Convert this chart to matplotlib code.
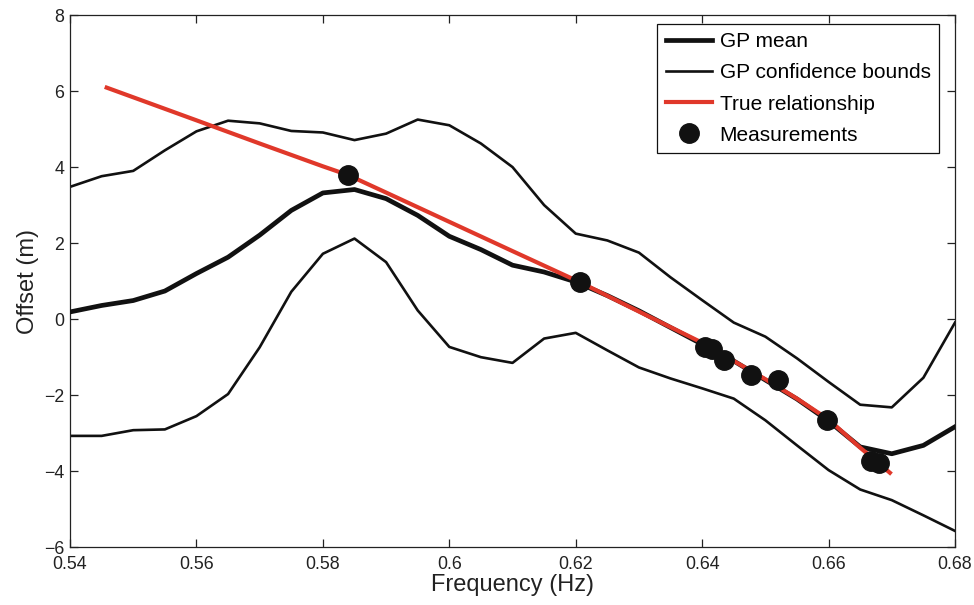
import matplotlib
matplotlib.use("Agg")
import matplotlib.pyplot as plt

# frequency grid of the GP curves (Hz)
freq = [0.540, 0.545, 0.550, 0.555, 0.560, 0.565, 0.570, 0.575, 0.580, 0.585,
        0.590, 0.595, 0.600, 0.605, 0.610, 0.615, 0.620, 0.625, 0.630, 0.635,
        0.640, 0.645, 0.650, 0.655, 0.660, 0.665, 0.670, 0.675, 0.680]

gp_mean = [0.19, 0.36, 0.49, 0.74, 1.20, 1.63, 2.21, 2.86, 3.32, 3.41,
           3.17, 2.73, 2.18, 1.83, 1.42, 1.24, 0.98, 0.62, 0.22, -0.22,
           -0.66, -1.10, -1.60, -2.10, -2.68, -3.36, -3.54, -3.32, -2.83]

gp_upper = [3.48, 3.76, 3.90, 4.44, 4.94, 5.22, 5.15, 4.95, 4.91, 4.71,
            4.88, 5.25, 5.10, 4.62, 4.00, 3.00, 2.25, 2.07, 1.75, 1.10,
            0.50, -0.09, -0.46, -1.03, -1.65, -2.25, -2.32, -1.54, -0.09]

gp_lower = [-3.07, -3.07, -2.92, -2.90, -2.55, -1.97, -0.74, 0.72, 1.72, 2.12,
            1.50, 0.23, -0.73, -1.00, -1.15, -0.51, -0.36, -0.82, -1.27, -1.56,
            -1.82, -2.09, -2.66, -3.32, -3.97, -4.48, -4.76, -5.16, -5.57]

# true relationship
true_freq = [0.5458, 0.560, 0.570, 0.580, 0.584, 0.590, 0.600, 0.610, 0.6207,
             0.630, 0.640, 0.650, 0.655, 0.660, 0.665, 0.6697]
true_offset = [6.09, 5.23, 4.62, 4.02, 3.79, 3.33, 2.56, 1.79, 0.97,
               0.20, -0.62, -1.58, -2.09, -2.64, -3.38, -4.04]

# measurements
meas_freq = [0.5840, 0.6207, 0.6405, 0.6415, 0.6434, 0.6478, 0.6520, 0.6598, 0.6667, 0.6679]
meas_offset = [3.79, 0.97, -0.73, -0.79, -1.08, -1.46, -1.61, -2.66, -3.74, -3.78]

plt.rcParams['font.family'] = ['Liberation Sans', 'DejaVu Sans']

fig = plt.figure(figsize=(9.74, 6.05), dpi=100)
ax = fig.add_axes([0.0719, 0.0954, 0.9086, 0.8798])

black = '#111111'
red = '#e0382a'

ax.plot(freq, gp_mean, color=black, lw=3.4, label='GP mean', zorder=3)
ax.plot(freq, gp_upper, color=black, lw=1.9, label='GP confidence bounds', zorder=2)
ax.plot(freq, gp_lower, color=black, lw=1.9, zorder=2)
ax.plot(true_freq, true_offset, color=red, lw=3.0, label='True relationship', zorder=4)
ax.plot(meas_freq, meas_offset, 'o', color=black, ms=14, mec=black,
        label='Measurements', zorder=5)

ax.set_xlim(0.54, 0.68)
ax.set_ylim(-6, 8)
ax.set_xticks([0.54, 0.56, 0.58, 0.6, 0.62, 0.64, 0.66, 0.68])
ax.set_xticklabels(['0.54', '0.56', '0.58', '0.6', '0.62', '0.64', '0.66', '0.68'])
ax.set_yticks([-6, -4, -2, 0, 2, 4, 6, 8])
ax.tick_params(direction='in', top=True, right=True, length=6, width=0.9,
               labelsize=12.8, colors='#222222', pad=6)
ax.tick_params(axis='y', pad=4)
for sp in ax.spines.values():
    sp.set_linewidth(0.9)
    sp.set_color('#222222')

ax.set_xlabel('Frequency (Hz)', fontsize=17, color='#222222', labelpad=1)
ax.set_ylabel('Offset (m)', fontsize=17, color='#222222', labelpad=4)

leg = ax.legend(loc='upper right', bbox_to_anchor=(0.982, 0.983), borderaxespad=0,
                fontsize=15.0, numpoints=1, handlelength=2.25, labelspacing=0.58,
                fancybox=False, framealpha=1, edgecolor=black, borderpad=0.4,
                handletextpad=0.35)
leg.get_frame().set_linewidth(0.9)

fig.savefig('out.png', dpi=100)
